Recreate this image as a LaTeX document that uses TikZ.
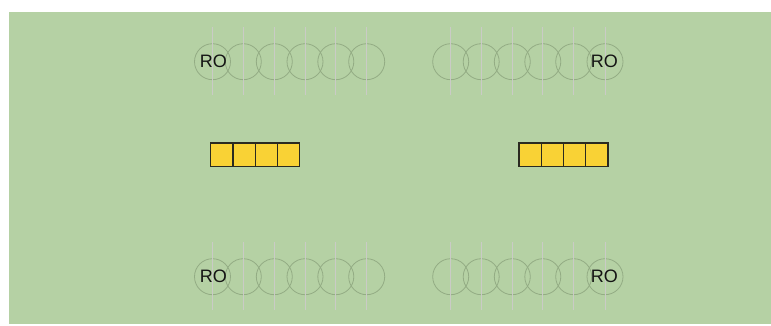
\documentclass[tikz,border=0pt]{standalone}
\usepackage{fontspec}
\setmainfont{Liberation Sans}
\definecolor{bg}{HTML}{B5D1A4}
\definecolor{ring}{HTML}{93AC84}
\definecolor{tick}{HTML}{CACBC6}
\definecolor{cell}{HTML}{F9D235}
\definecolor{celledge}{HTML}{2A2A20}
\tikzset{
  seat/.style={circle, draw=ring, line width=0.8pt, minimum size=36pt, inner sep=0pt},
  tickline/.style={draw=tick, line width=0.9pt},
  rolabel/.style={font=\fontsize{18}{18}\selectfont, text=black!92, inner sep=0pt},
  cellbox/.style={rectangle, draw=celledge, fill=cell, line width=1.3pt, minimum width=22.25pt, minimum height=23.4pt, inner sep=0pt, anchor=north west},
}
\begin{document}
\begin{tikzpicture}[x=1pt,y=-1pt]
\useasboundingbox (0,0) rectangle (771,325);
\fill[white] (0,0) rectangle (771,325);
\fill[bg] (9,12) rectangle (771,324);
% rows of seats
\foreach \row/\yy in {t/61.7, b/276.7}{
  \foreach \i/\xx in {1/212.5,2/243.3,3/274.3,4/305,5/335.8,6/366.7}{
    \node[seat] (L\row\i) at (\xx,\yy) {};
    \coordinate (L\row\i a) at (\xx,\yy-34.5);
    \coordinate (L\row\i b) at (\xx,\yy+33.5);
  }
  \foreach \i/\xx in {1/450.7,2/481.2,3/512.3,4/542.8,5/573.7,6/605}{
    \node[seat] (R\row\i) at (\xx,\yy) {};
    \coordinate (R\row\i a) at (\xx,\yy-34.5);
    \coordinate (R\row\i b) at (\xx,\yy+33.5);
  }
}
\foreach \row in {t,b}{
  \foreach \i in {1,...,6}{
    \draw[tickline] (L\row\i a) -- (L\row\i b);
    \draw[tickline] (R\row\i a) -- (R\row\i b);
  }
}
\node[rolabel] (ro1) at (213.3,61.7) {RO};
\node[rolabel] (ro2) at (604.3,61.7) {RO};
\node[rolabel] (ro3) at (213.3,276.7) {RO};
\node[rolabel] (ro4) at (604.3,276.7) {RO};
% yellow cells
\foreach \i in {0,1,2,3}{
  \node[cellbox] (lc\i) at (210+\i*22.25,142.3) {};
  \node[cellbox] (rc\i) at (518.3+\i*22.25,142.3) {};
}
\end{tikzpicture}
\end{document}
